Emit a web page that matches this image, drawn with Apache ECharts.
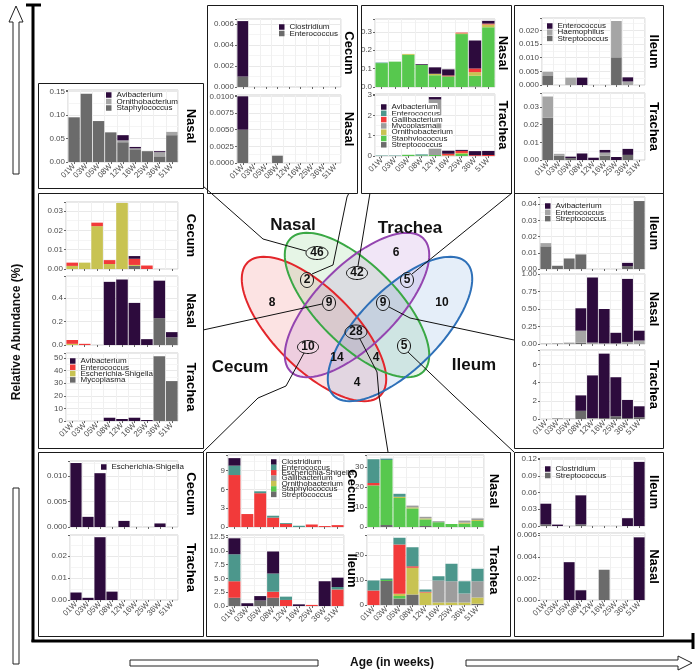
<!DOCTYPE html>
<html><head><meta charset="utf-8">
<script src="https://cdn.jsdelivr.net/npm/echarts@6/dist/echarts.min.js"></script>
<style>html,body{margin:0;padding:0;background:#fff}#c{width:696px;height:672px}</style>
</head><body><div id="c"></div><script>
// ---------------- DATA ----------------
const weeks = ['01W','03W','05W','08W','12W','16W','25W','36W','51W'];

// Panel 1 : Nasal only
const p1Nasal_Avibacterium     = [0,0,0,0,0.011,0.003,0,0.002,0];
const p1Nasal_Ornithobacterium = [0,0,0,0,0.004,0.002,0,0.009,0.007];
const p1Nasal_Staphylococcus   = [0.095,0.145,0.087,0.063,0.042,0.027,0.023,0.012,0.057];

// Panel 2 : Cecum & Nasal
const p2Cecum_Clostridium  = [0.0053,0,0,0,0,0,0,0,0];
const p2Cecum_Enterococcus = [0.0010,0,0,0,0,0,0,0,0];
const p2Nasal_Clostridium  = [0.0050,0,0,0,0,0,0,0,0];
const p2Nasal_Enterococcus = [0.0050,0,0,0.0011,0,0,0,0,0];

// Panel 3 : Nasal & Trachea
const p3Nasal_Avibacterium     = [0,0,0,0.004,0.035,0.033,0,0.152,0.015];
const p3Nasal_Enterococcus     = [0.003,0,0,0,0,0,0,0,0];
const p3Nasal_Gallibacterium   = [0,0,0,0,0,0.005,0.004,0.020,0.005];
const p3Nasal_Mycoplasma       = [0,0,0,0,0,0,0,0,0];
const p3Nasal_Ornithobacterium = [0,0,0.005,0,0.008,0,0.004,0.020,0.015];
const p3Nasal_Staphylococcus   = [0.130,0.138,0.175,0.120,0.064,0.058,0.288,0.058,0.325];
const p3Nasal_Streptococcus    = [0,0,0,0,0,0,0,0.003,0];
const p3Trachea_Avibacterium     = [0,0,0,0,0.12,0.15,0.05,0.20,0.20];
const p3Trachea_Enterococcus     = [0.02,0.02,0,0.05,0,0,0,0,0];
const p3Trachea_Gallibacterium   = [0,0,0,0,0,0.08,0.10,0.04,0.05];
const p3Trachea_Mycoplasma       = [0,0,0,0,2.73,0,0,0,0];
const p3Trachea_Ornithobacterium = [0,0,0,0,0,0.03,0.05,0,0];
const p3Trachea_Staphylococcus   = [0,0,0.06,0.03,0.05,0,0.10,0,0];
const p3Trachea_Streptococcus    = [0,0,0,0,0,0,0,0,0];

// Panel 4 : Ileum & Trachea
const p4Ileum_Enterococcus  = [0,0,0,0.0027,0,0,0,0.0015,0];
const p4Ileum_Haemophilus   = [0.0015,0,0.0027,0,0,0,0.0133,0.0013,0];
const p4Ileum_Streptococcus = [0.0033,0,0,0,0,0,0.0101,0,0];
const p4Trachea_Enterococcus  = [0,0,0.0008,0.0037,0.0013,0.0015,0.0017,0.0034,0];
const p4Trachea_Haemophilus   = [0.012,0.001,0,0,0,0.0017,0,0,0];
const p4Trachea_Streptococcus = [0.024,0.0025,0.0011,0,0,0.0025,0,0.0029,0];

// Panel 5 : Cecum, Nasal & Trachea
const p5Cecum_Avibacterium  = [0,0,0,0,0,0.0014,0,0,0];
const p5Cecum_Enterococcus  = [0.0017,0,0.0018,0.0020,0,0.0032,0.0018,0,0];
const p5Cecum_Escherichia   = [0.0016,0.0033,0.0222,0.0026,0.0342,0.0005,0,0,0];
const p5Cecum_Mycoplasma    = [0,0,0,0,0,0.0016,0,0,0];
const p5Nasal_Avibacterium  = [0,0,0,0.54,0.56,0.36,0.05,0.32,0.044];
const p5Nasal_Enterococcus  = [0.033,0.010,0,0,0,0,0,0,0];
const p5Nasal_Escherichia   = [0.010,0,0,0,0,0,0,0,0];
const p5Nasal_Mycoplasma    = [0,0,0,0,0,0,0,0.23,0.066];
const p5Trachea_Avibacterium = [0,0,0,2.6,1.6,2.6,0.8,0,0];
const p5Trachea_Enterococcus = [0,0,0,0,0,0,0,0,0];
const p5Trachea_Escherichia  = [0,0,0,0,0,0,0,0,0];
const p5Trachea_Mycoplasma   = [0,0,0,0,0,0,0,51.5,31.7];

// Panel 6 : Ileum, Nasal & Trachea
const p6Ileum_Avibacterium  = [0,0,0,0,0,0,0,0.002,0];
const p6Ileum_Enterococcus  = [0.002,0,0,0,0,0,0,0,0];
const p6Ileum_Streptococcus = [0.014,0.002,0.0065,0.009,0,0,0,0.0018,0.042];
const p6Nasal_Avibacterium  = [0,0,0,0.32,0.93,0.49,0.15,0.90,0.14];
const p6Nasal_Enterococcus  = [0.005,0.010,0.020,0.17,0.02,0.01,0.01,0.03,0.05];
const p6Nasal_Streptococcus = [0,0,0,0.02,0,0,0,0,0];
const p6Trachea_Avibacterium  = [0,0,0,1.7,4.7,7.1,4.3,2.0,1.2];
const p6Trachea_Enterococcus  = [0,0.1,0.05,0,0.1,0,0,0,0];
const p6Trachea_Streptococcus = [0,0,0,0.9,0,0.1,0.3,0.1,0.2];

// Panel 7 : Cecum & Trachea
const p7Cecum_Escherichia   = [0.0126,0.0020,0.0106,0,0.0012,0,0,0.0007,0];
const p7Trachea_Escherichia = [0.0034,0.0010,0.0285,0.0038,0,0,0,0,0];

// Panel 8 : Cecum, Nasal, Ileum & Trachea
const p8Cecum_Clostridium      = [1.2,0,0,0,0,0,0,0,0];
const p8Cecum_Enterococcus     = [1.5,0,0.3,0.3,0.14,0.2,0,0,0];
const p8Cecum_Escherichia      = [8.3,2.07,5.4,1.5,0.5,0,0.4,0.15,0.3];
const p8Cecum_Empty            = [0,0,0,0,0,0,0,0,0];
const p8Ileum_Clostridium      = [2.9,0.5,0.8,4.0,0,0.3,0,4.5,1.7];
const p8Ileum_Enterococcus     = [4.9,0,0,3.3,0.6,0,0,0,0.45];
const p8Ileum_Escherichia      = [3.0,0,0,1.1,1.1,0,0.2,0,3.0];
const p8Ileum_Streptococcus    = [1.5,0,1.0,1.5,0,0,0,0,0];
const p8Nasal_Enterococcus     = [11.9,0.7,1.5,0,0,0,0,0,0];
const p8Nasal_Escherichia      = [1.2,0,0,0,0,0,0,0,0];
const p8Nasal_Gallibacterium   = [0,0,0,0.9,0.8,0.5,0,1.0,0.8];
const p8Nasal_Ornithobacterium = [0,0,0.6,0.5,0.5,0,0,0.6,0.5];
const p8Nasal_Staphylococcus   = [20.8,32.5,14.5,9.3,3.3,2.4,1.5,1.6,3.0];
const p8Nasal_Streptococcus    = [0,1.0,0,0,0.5,0,0,0,0];
const p8Trachea_Enterococcus     = [4.0,0.6,2.7,7.6,0.9,1.7,7.0,4.9,5.0];
const p8Trachea_Escherichia      = [5.8,0,19.7,0.6,0.3,0,0,0,0];
const p8Trachea_Gallibacterium   = [0,0,0,0,0,8.8,8.5,3.6,6.5];
const p8Trachea_Ornithobacterium = [0,0,0.9,10.7,5.0,1.0,1.0,1.0,2.5];
const p8Trachea_Staphylococcus   = [0,0.4,1.0,0,0,0,0,0,0];
const p8Trachea_Streptococcus    = [0,9.6,2.6,4.2,0,0,0,0,0.5];

// Panel 9 : Ileum & Nasal
const p9Ileum_Clostridium   = [0.037,0.0025,0,0.052,0,0,0,0.014,0.115];
const p9Ileum_Streptococcus = [0.003,0,0,0.003,0,0,0,0,0];
const p9Nasal_Clostridium   = [0,0,0.0035,0.0009,0,0,0,0,0.0058];
const p9Nasal_Streptococcus = [0,0,0,0,0,0.0028,0,0,0];

// Venn diagram counts
const vennSets   = ['Nasal','Trachea','Cecum','Ileum'];
const vennCounts = [46,6,2,42,5,8,9,9,10,28,10,5,14,4,4];

// ---------------- STYLE / LAYOUT ----------------
const FONT = '"Liberation Sans", Arial, sans-serif';
const K = {dark:'#2d0b3d', teal:'#4c978c', red:'#f23a3a', lgray:'#a5a5a5', olive:'#c8c352', green:'#57c84e', dgray:'#6b6b6b', mgray:'#9d9d9d'};

// rect: [left, top, width, height]; legend sp = item spacing in px
const plots = [
 {id:'a', rect:[68,90,110,72], strip:'Nasal', sx:191, max:0.153, iv:0.05, dec:2, x:true,
  legend:{left:106,top:91,sp:6.5}, s:[['Avibacterium',p1Nasal_Avibacterium,K.dark],['Ornithobacterium',p1Nasal_Ornithobacterium,K.lgray],['Staphylococcus',p1Nasal_Staphylococcus,K.dgray]]},
 {id:'b', rect:[237,19,104,68], strip:'Cecum', sx:349, max:0.0065, iv:0.002, dec:3, x:false,
  legend:{left:279,top:23,sp:6.5}, s:[['Clostridium',p2Cecum_Clostridium,K.dark],['Enterococcus',p2Cecum_Enterococcus,K.dgray]]},
 {id:'c', rect:[237,95,104,68], strip:'Nasal', sx:349, max:0.0102, iv:0.0025, dec:4, x:true,
  s:[['Clostridium',p2Nasal_Clostridium,K.dark],['Enterococcus',p2Nasal_Enterococcus,K.dgray]]},
 {id:'d', rect:[375,19,120,68], strip:'Nasal', sx:503, max:0.37, iv:0.1, dec:1, x:false,
  s:[['Avibacterium',p3Nasal_Avibacterium,K.dark],['Enterococcus',p3Nasal_Enterococcus,K.teal],['Gallibacterium',p3Nasal_Gallibacterium,K.red],['Mycoplasma',p3Nasal_Mycoplasma,K.mgray],['Ornithobacterium',p3Nasal_Ornithobacterium,K.olive],['Staphylococcus',p3Nasal_Staphylococcus,K.green],['Streptococcus',p3Nasal_Streptococcus,K.dgray]]},
 {id:'e', rect:[375,94,120,62], strip:'Trachea', sx:503, max:3.05, iv:1, dec:0, x:true,
  legend:{left:381,top:103,sp:6.3,bg:true}, s:[['Avibacterium',p3Trachea_Avibacterium,K.dark],['Enterococcus',p3Trachea_Enterococcus,K.teal],['Gallibacterium',p3Trachea_Gallibacterium,K.red],['Mycoplasma',p3Trachea_Mycoplasma,K.mgray],['Ornithobacterium',p3Trachea_Ornithobacterium,K.olive],['Staphylococcus',p3Trachea_Staphylococcus,K.green],['Streptococcus',p3Trachea_Streptococcus,K.dgray]]},
 {id:'f', rect:[542,18,103,67], strip:'Ileum', sx:654, max:0.0245, iv:0.005, dec:3, x:false,
  legend:{left:547,top:22,sp:6.2}, s:[['Enterococcus',p4Ileum_Enterococcus,K.dark],['Haemophilus',p4Ileum_Haemophilus,K.lgray],['Streptococcus',p4Ileum_Streptococcus,K.dgray]]},
 {id:'g', rect:[542,93,103,67], strip:'Trachea', sx:654, max:0.038, iv:0.01, dec:2, x:true,
  s:[['Enterococcus',p4Trachea_Enterococcus,K.dark],['Haemophilus',p4Trachea_Haemophilus,K.lgray],['Streptococcus',p4Trachea_Streptococcus,K.dgray]]},
 {id:'h', rect:[66,202,112,67], strip:'Cecum', sx:191, max:0.0347, iv:0.01, dec:2, x:false,
  s:[['Avibacterium',p5Cecum_Avibacterium,K.dark],['Enterococcus',p5Cecum_Enterococcus,K.red],['Escherichia-Shigella',p5Cecum_Escherichia,K.olive],['Mycoplasma',p5Cecum_Mycoplasma,K.dgray]]},
 {id:'i', rect:[66,276,112,69], strip:'Nasal', sx:191, max:0.59, iv:0.2, dec:1, x:false,
  s:[['Avibacterium',p5Nasal_Avibacterium,K.dark],['Enterococcus',p5Nasal_Enterococcus,K.red],['Escherichia-Shigella',p5Nasal_Escherichia,K.olive],['Mycoplasma',p5Nasal_Mycoplasma,K.dgray]]},
 {id:'j', rect:[66,353,112,68], strip:'Trachea', sx:191, max:54, iv:10, dec:0, x:true,
  legend:{left:70,top:357,sp:6.3}, s:[['Avibacterium',p5Trachea_Avibacterium,K.dark],['Enterococcus',p5Trachea_Enterococcus,K.red],['Escherichia-Shigella',p5Trachea_Escherichia,K.olive],['Mycoplasma',p5Trachea_Mycoplasma,K.dgray]]},
 {id:'k', rect:[540,197,105,72], strip:'Ileum', sx:654, max:0.0445, iv:0.01, dec:2, x:false,
  legend:{left:545,top:202,sp:6.3}, s:[['Avibacterium',p6Ileum_Avibacterium,K.dark],['Enterococcus',p6Ileum_Enterococcus,K.lgray],['Streptococcus',p6Ileum_Streptococcus,K.dgray]]},
 {id:'l', rect:[540,274,105,70], strip:'Nasal', sx:654, max:1.0, iv:0.25, dec:2, x:false,
  s:[['Avibacterium',p6Nasal_Avibacterium,K.dark],['Enterococcus',p6Nasal_Enterococcus,K.lgray],['Streptococcus',p6Nasal_Streptococcus,K.dgray]]},
 {id:'m', rect:[540,350,105,69], strip:'Trachea', sx:654, max:7.6, iv:2, dec:0, x:true,
  s:[['Avibacterium',p6Trachea_Avibacterium,K.dark],['Enterococcus',p6Trachea_Enterococcus,K.lgray],['Streptococcus',p6Trachea_Streptococcus,K.dgray]]},
 {id:'n', rect:[70,461,108,66], strip:'Cecum', sx:191, max:0.013, iv:0.005, dec:3, x:false,
  legend:{left:101,top:463,sp:6.5}, s:[['Escherichia-Shigella',p7Cecum_Escherichia,K.dark]]},
 {id:'o', rect:[70,535,108,65], strip:'Trachea', sx:191, max:0.0295, iv:0.01, dec:2, x:true,
  s:[['Escherichia-Shigella',p7Trachea_Escherichia,K.dark]]},
 {id:'p', rect:[228,455,116,72], strip:'Cecum', sx:352, max:11.5, iv:3, dec:0, x:false,
  legend:{left:271,top:458,sp:5.4}, s:[['Clostridium',p8Cecum_Clostridium,K.dark],['Enterococcus',p8Cecum_Enterococcus,K.teal],['Escherichia-Shigella',p8Cecum_Escherichia,K.red],['Gallibacterium',p8Cecum_Empty,K.mgray],['Ornithobacterium',p8Cecum_Empty,K.olive],['Staphylococcus',p8Cecum_Empty,K.green],['Streptococcus',p8Cecum_Empty,K.dgray]]},
 {id:'q', rect:[228,535,116,71], strip:'Ileum', sx:352, max:12.9, iv:2.5, dec:1, x:true,
  s:[['Clostridium',p8Ileum_Clostridium,K.dark],['Enterococcus',p8Ileum_Enterococcus,K.teal],['Escherichia-Shigella',p8Ileum_Escherichia,K.red],['Streptococcus',p8Ileum_Streptococcus,K.dgray]]},
 {id:'r', rect:[367,455,117,72], strip:'Nasal', sx:494, max:36, iv:10, dec:0, x:false,
  s:[['Enterococcus',p8Nasal_Enterococcus,K.teal],['Escherichia-Shigella',p8Nasal_Escherichia,K.red],['Gallibacterium',p8Nasal_Gallibacterium,K.mgray],['Ornithobacterium',p8Nasal_Ornithobacterium,K.olive],['Staphylococcus',p8Nasal_Staphylococcus,K.green],['Streptococcus',p8Nasal_Streptococcus,K.dgray]]},
 {id:'s', rect:[367,535,117,70], strip:'Trachea', sx:494, max:28, iv:10, dec:0, x:true,
  s:[['Enterococcus',p8Trachea_Enterococcus,K.teal],['Escherichia-Shigella',p8Trachea_Escherichia,K.red],['Gallibacterium',p8Trachea_Gallibacterium,K.mgray],['Ornithobacterium',p8Trachea_Ornithobacterium,K.olive],['Staphylococcus',p8Trachea_Staphylococcus,K.green],['Streptococcus',p8Trachea_Streptococcus,K.dgray]]},
 {id:'t', rect:[540,458,105,68], strip:'Ileum', sx:654, max:0.122, iv:0.03, dec:2, x:false,
  legend:{left:545,top:465,sp:6.5}, s:[['Clostridium',p9Ileum_Clostridium,K.dark],['Streptococcus',p9Ileum_Streptococcus,K.dgray]]},
 {id:'u', rect:[540,533,105,67], strip:'Nasal', sx:654, max:0.0062, iv:0.002, dec:3, x:true,
  s:[['Clostridium',p9Nasal_Clostridium,K.dark],['Streptococcus',p9Nasal_Streptococcus,K.dgray]]}
];

// panel frames [x, y, w, h]
const boxes = [[38,83,165,105],[207,5,150,188],[361,5,150,188],[514,5,149,188],
               [38,193,165,255],[514,193,149,255],[38,452,165,184],[206,452,304,184],[514,452,149,184]];

// Venn layout
const ellipses = [ // cx, cy, a, b, dir, stroke, fill
  [314,329,94,40, 1,'#e3262b','rgba(235,80,80,0.16)'],
  [357,305,94,40, 1,'#3aa845','rgba(90,190,90,0.15)'],
  [357,305,94,40,-1,'#9445b0','rgba(160,90,200,0.15)'],
  [400,329,94,40,-1,'#2e70b8','rgba(80,140,215,0.15)']];
const setLabelPos = [[293,225],[410,228],[240,367],[474,365]];
const countPos = [ // x, y, circled rx, ry (0 = not circled)
  [317,253,11,6.5],[396,253,0,0],[307,280,6.5,7.5],[357,273,10.5,6.5],[407,280,6.5,7.5],
  [272,303,0,0],[329,303,6.5,7.5],[383,303,6.5,7.5],[442,303,0,0],[356,332,11,7],
  [308,347,10.5,6.5],[404,346,6.5,7.5],[337,358,0,0],[376,358,0,0],[357,383,0,0]];
const connectors = [
  [[306,251],[263,239],[203,186]],
  [[312,274],[333,265],[347,197],[349,193]],
  [[358,266],[370,193]],
  [[412,274],[512,193]],
  [[322,304],[203,330]],
  [[389,307],[410,318],[514,340]],
  [[304,353],[286,386],[258,398],[203,452]],
  [[360,339],[377,372],[379,396],[388,452]],
  [[408,352],[453,395],[514,452]]];

// ---------------- BUILD ----------------
const LEG_LH = 8;
const grids=[], xAxes=[], yAxes=[], series=[], legends=[], g=[];
plots.forEach((p,i)=>{
  grids.push({left:p.rect[0],top:p.rect[1],width:p.rect[2],height:p.rect[3],show:true,
    borderColor:'#cfcfcf',borderWidth:1,backgroundColor:'#fff'});
  xAxes.push({type:'category',gridIndex:i,data:weeks,
    axisLine:{show:false},
    axisTick:{show:true,length:2,alignWithLabel:true,lineStyle:{color:'#666'}},
    axisLabel:{show:p.x,rotate:45,fontSize:8,color:'#4d4d4d',margin:3,fontFamily:FONT,interval:0},
    splitLine:{show:true,lineStyle:{color:'#f0f0f0',width:1}}});
  yAxes.push({type:'value',gridIndex:i,min:0,max:p.max,interval:p.iv,
    axisLine:{show:false},
    axisTick:{show:true,length:2,lineStyle:{color:'#666'}},
    axisLabel:{fontSize:8,color:'#4d4d4d',margin:3,fontFamily:FONT,
      formatter:v=>{const k=v/p.iv;return Math.abs(k-Math.round(k))<1e-6?v.toFixed(p.dec):'';}},
    splitLine:{show:true,lineStyle:{color:'#e9e9e9'}},
    minorTick:{show:false,splitNumber:2},
    minorSplitLine:{show:true,lineStyle:{color:'#f5f5f5'}}});
  p.s.slice().reverse().forEach(([name,data,color])=>{
    series.push({type:'bar',name:p.id+'|'+name,xAxisIndex:i,yAxisIndex:i,stack:'st'+i,
      data:data,barCategoryGap:'7%',itemStyle:{color:color},silent:true,animation:false});
  });
  if(p.legend){
    const L=p.legend;
    legends.push({orient:'vertical',left:L.left,top:L.top,padding:0,itemGap:L.sp-LEG_LH,
      itemWidth:5.5,itemHeight:5.5,icon:'rect',selectedMode:false,
      data:p.s.map(s=>p.id+'|'+s[0]),
      formatter:n=>n.split('|')[1],
      textStyle:{fontSize:8,lineHeight:LEG_LH,color:'#1a1a1a',fontFamily:FONT,
        backgroundColor:L.bg?'#ffffff':'transparent',padding:0}});
  }
  g.push({type:'text',x:p.sx,y:p.rect[1]+p.rect[3]/2,rotation:-Math.PI/2,
    style:{text:p.strip,font:'bold 13px '+FONT,fill:'#000',align:'center',verticalAlign:'middle'}});
});

boxes.forEach(b=>g.push({type:'rect',shape:{x:b[0]+0.5,y:b[1]+0.5,width:b[2],height:b[3]},
  style:{fill:null,stroke:'#1a1a1a',lineWidth:1},z:50}));

function ellPts(cx,cy,a,b,dir){
  const pts=[],c=Math.SQRT1_2,s=dir*Math.SQRT1_2;
  for(let k=0;k<96;k++){const t=k/96*2*Math.PI;const u=a*Math.cos(t),v=b*Math.sin(t);
    pts.push([cx+u*c-v*s,cy+u*s+v*c]);}
  return pts;
}
function ovalPts(cx,cy,rx,ry){const pts=[];for(let k=0;k<48;k++){const t=k/48*2*Math.PI;pts.push([cx+rx*Math.cos(t),cy+ry*Math.sin(t)]);}return pts;}

ellipses.forEach(e=>g.push({type:'polygon',shape:{points:ellPts(e[0],e[1],e[2],e[3],e[4])},style:{fill:e[6],stroke:null},z:10}));
ellipses.forEach(e=>g.push({type:'polygon',shape:{points:ellPts(e[0],e[1],e[2],e[3],e[4])},style:{fill:null,stroke:e[5],lineWidth:2},z:11}));
connectors.forEach(c=>g.push({type:'polyline',shape:{points:c},style:{stroke:'#111',lineWidth:1,fill:null},z:12}));
vennCounts.forEach((n,i)=>{
  const p=countPos[i];
  if(p[2]) g.push({type:'polygon',shape:{points:ovalPts(p[0],p[1],p[2],p[3])},style:{fill:'rgba(255,255,255,0.15)',stroke:'#111',lineWidth:1},z:13});
  g.push({type:'text',x:p[0],y:p[1],style:{text:String(n),font:'bold 12px '+FONT,fill:'#111',align:'center',verticalAlign:'middle'},z:14});
});
vennSets.forEach((s,i)=>g.push({type:'text',x:setLabelPos[i][0],y:setLabelPos[i][1],
  style:{text:s,font:'bold 17px '+FONT,fill:'#111',align:'center',verticalAlign:'middle'},z:14}));

// main axes
g.push({type:'line',shape:{x1:33,y1:5,x2:33,y2:642},style:{stroke:'#000',lineWidth:3},z:20});
g.push({type:'line',shape:{x1:26,y1:5,x2:41,y2:5},style:{stroke:'#000',lineWidth:3},z:20});
g.push({type:'line',shape:{x1:31.5,y1:641,x2:693,y2:641},style:{stroke:'#000',lineWidth:3},z:20});
g.push({type:'line',shape:{x1:693,y1:633,x2:693,y2:649},style:{stroke:'#000',lineWidth:3},z:20});
// hollow arrows
g.push({type:'polygon',shape:{points:[[16,6],[23,22],[19,22],[19,174],[13,174],[13,22],[9,22]]},style:{fill:'#fff',stroke:'#222',lineWidth:1},z:20});
g.push({type:'rect',shape:{x:13,y:488,width:6,height:176},style:{fill:'#fff',stroke:'#222',lineWidth:1},z:20});
g.push({type:'rect',shape:{x:130,y:660,width:188,height:6},style:{fill:'#fff',stroke:'#222',lineWidth:1},z:20});
g.push({type:'polygon',shape:{points:[[466,660],[678,660],[678,656],[692,663],[678,670],[678,666],[466,666]]},style:{fill:'#fff',stroke:'#222',lineWidth:1},z:20});
g.push({type:'text',x:17,y:332,rotation:Math.PI/2,style:{text:'Relative Abundance (%)',font:'bold 12px '+FONT,fill:'#111',align:'center',verticalAlign:'middle'},z:20});
g.push({type:'text',x:392,y:663,style:{text:'Age (in weeks)',font:'bold 12px '+FONT,fill:'#111',align:'center',verticalAlign:'middle'},z:20});

const chart=echarts.init(document.getElementById('c'),null,{renderer:'canvas'});
chart.setOption({animation:false,backgroundColor:'#fff',grid:grids,xAxis:xAxes,yAxis:yAxes,
  series:series,legend:legends,graphic:{elements:g}});
</script></body></html>
